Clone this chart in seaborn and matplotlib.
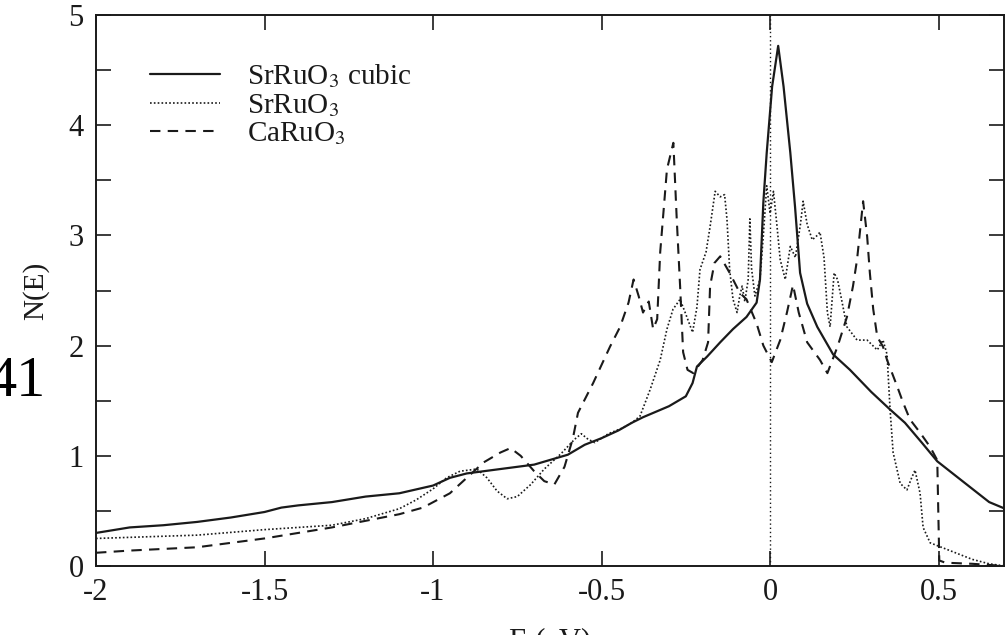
import matplotlib
matplotlib.use("Agg")
import matplotlib.pyplot as plt
import seaborn as sns
import numpy as np

# Density of states N(E) of the ruthenates near the Fermi level
e_cubic = [-2.0, -1.9, -1.8, -1.7, -1.6, -1.5, -1.45, -1.4, -1.3, -1.2,
           -1.1, -1.0, -0.95, -0.9, -0.85, -0.8, -0.7, -0.6, -0.55, -0.5,
           -0.45, -0.41, -0.377, -0.3, -0.25, -0.23, -0.217, -0.187, -0.148, -0.11,
           -0.07, -0.04, -0.03, -0.02, -0.01, 0.006, 0.024, 0.04, 0.06, 0.074,
           0.089, 0.11, 0.14, 0.187, 0.237, 0.3, 0.356, 0.4, 0.45, 0.496,
           0.55, 0.6, 0.65, 0.697]
n_cubic = [0.30, 0.35, 0.37, 0.40, 0.44, 0.49, 0.53, 0.55, 0.58, 0.63,
           0.66, 0.73, 0.80, 0.84, 0.86, 0.88, 0.92, 1.01, 1.10, 1.16,
           1.23, 1.30, 1.35, 1.45, 1.54, 1.66, 1.81, 1.90, 2.03, 2.15,
           2.26, 2.39, 2.6, 3.3, 3.75, 4.35, 4.72, 4.35, 3.75, 3.26,
           2.66, 2.38, 2.17, 1.92, 1.78, 1.58, 1.42, 1.30, 1.12, 0.95,
           0.82, 0.70, 0.58, 0.52]

e_srruo3 = [-2.0, -1.8, -1.7, -1.5, -1.3, -1.2, -1.1, -1.05, -1.0, -0.96,
            -0.92, -0.87, -0.84, -0.81, -0.78, -0.75, -0.71, -0.67, -0.62, -0.58,
            -0.56, -0.54, -0.52, -0.48, -0.44, -0.41, -0.386, -0.356, -0.326, -0.306,
            -0.288, -0.267, -0.247, -0.23, -0.217, -0.208, -0.19, -0.178, -0.163, -0.148,
            -0.135, -0.128, -0.12, -0.11, -0.098, -0.09, -0.083, -0.075, -0.065, -0.06,
            -0.055, -0.045, -0.03, -0.02, -0.01, 0.0, 0.01, 0.02, 0.03, 0.045,
            0.06, 0.075, 0.09, 0.098, 0.11, 0.125, 0.14, 0.148, 0.16, 0.17,
            0.178, 0.19, 0.2, 0.21, 0.228, 0.258, 0.288, 0.318, 0.335, 0.347,
            0.356, 0.365, 0.386, 0.406, 0.42, 0.43, 0.445, 0.454, 0.475, 0.525,
            0.6, 0.65, 0.697]
n_srruo3 = [0.25, 0.27, 0.28, 0.33, 0.37, 0.43, 0.52, 0.60, 0.70, 0.80,
            0.86, 0.88, 0.80, 0.68, 0.61, 0.63, 0.74, 0.88, 1.02, 1.15,
            1.20, 1.15, 1.12, 1.20, 1.25, 1.30, 1.36, 1.6, 1.87, 2.15,
            2.33, 2.42, 2.26, 2.12, 2.35, 2.69, 2.85, 3.08, 3.4, 3.35,
            3.37, 3.15, 2.69, 2.42, 2.3, 2.45, 2.54, 2.4, 2.6, 3.15,
            2.7, 2.45, 2.6, 3.0, 3.45, 3.2, 3.4, 3.1, 2.78, 2.6,
            2.9, 2.8, 3.1, 3.31, 3.1, 2.96, 3.0, 3.03, 2.8, 2.3,
            2.17, 2.66, 2.6, 2.45, 2.17, 2.05, 2.05, 1.96, 2.05, 1.92,
            1.42, 1.03, 0.75, 0.69, 0.80, 0.87, 0.66, 0.35, 0.21, 0.15,
            0.06, 0.02, 0.0]

e_caruo3 = [-2.0, -1.9, -1.7, -1.5, -1.3, -1.1, -1.03, -0.95, -0.9, -0.85,
            -0.8, -0.77, -0.74, -0.7, -0.67, -0.64, -0.61, -0.585, -0.57, -0.525,
            -0.475, -0.445, -0.42, -0.405, -0.39, -0.377, -0.36, -0.347, -0.335, -0.326,
            -0.306, -0.287, -0.277, -0.267, -0.258, -0.245, -0.228, -0.2, -0.184, -0.178,
            -0.165, -0.148, -0.12, -0.09, -0.07, -0.04, -0.02, 0.005, 0.03, 0.05,
            0.068, 0.085, 0.11, 0.148, 0.17, 0.2, 0.228, 0.246, 0.258, 0.276,
            0.288, 0.296, 0.306, 0.318, 0.335, 0.347, 0.377, 0.395, 0.415, 0.445,
            0.475, 0.496, 0.499, 0.502, 0.52, 0.6, 0.697]
n_caruo3 = [0.12, 0.14, 0.17, 0.25, 0.35, 0.47, 0.53, 0.66, 0.80, 0.94,
            1.03, 1.07, 1.0, 0.86, 0.77, 0.74, 0.90, 1.16, 1.39, 1.66,
            1.99, 2.17, 2.39, 2.60, 2.45, 2.30, 2.40, 2.15, 2.24, 2.85,
            3.6, 3.84, 3.15, 2.54, 1.94, 1.78, 1.75, 1.87, 2.03, 2.54,
            2.75, 2.81, 2.66, 2.48, 2.42, 2.2, 2.0, 1.85, 2.05, 2.3,
            2.55, 2.3, 2.03, 1.87, 1.75, 1.99, 2.26, 2.54, 2.78, 3.31,
            2.99, 2.66, 2.33, 2.08, 1.99, 1.87, 1.63, 1.48, 1.33, 1.21,
            1.08, 0.96, 0.5, 0.05, 0.03, 0.02, 0.0]

series_labels = [r"SrRuO$_3$ cubic", r"SrRuO$_3$", r"CaRuO$_3$"]
x_ticks = [-2, -1.5, -1, -0.5, 0, 0.5]
x_tick_labels = ["-2", "-1.5", "-1", "-0.5", "0", "0.5"]
y_ticks = [0, 1, 2, 3, 4, 5]

sns.set_style("ticks")
plt.rcParams["font.family"] = ["Liberation Serif", "DejaVu Serif"]
plt.rcParams["mathtext.fontset"] = "stix"

ink = "#1a1a1a"
fig = plt.figure(figsize=(10.05, 6.35), dpi=100)
ax = fig.add_axes([96 / 1005, 69 / 635, 908 / 1005, 551 / 635])

sns.lineplot(x=e_cubic, y=n_cubic, ax=ax, color=ink, lw=1.6,
             linestyle="-", estimator=None, sort=False, label=series_labels[0])
sns.lineplot(x=e_srruo3, y=n_srruo3, ax=ax, color=ink, lw=1.2,
             linestyle=(0, (1, 1.3)), estimator=None, sort=False, label=series_labels[1])
sns.lineplot(x=e_caruo3, y=n_caruo3, ax=ax, color=ink, lw=1.5,
             linestyle=(0, (5, 3.5)), estimator=None, sort=False, label=series_labels[2])

# Fermi level
ax.axvline(0, color=ink, lw=1.0, linestyle=(0, (1, 2)))

ax.set_xlim(-2, 0.694)
ax.set_ylim(0, 5)
ax.set_xticks(x_ticks)
ax.set_xticklabels(x_tick_labels)
ax.set_yticks(y_ticks)
ax.set_yticks(np.arange(0.5, 5, 1.0), minor=True)
ax.tick_params(which="both", direction="in", top=True, right=True,
               length=11, width=1.2, color=ink, labelsize=22, labelcolor=ink, pad=9)
for s in ax.spines.values():
    s.set_linewidth(1.4)
    s.set_color(ink)

ax.set_ylabel("N(E)", fontsize=21, color=ink, labelpad=14)
ax.set_xlabel("E (eV)", fontsize=22, color=ink, labelpad=14)

leg = ax.legend(loc="upper left", bbox_to_anchor=(0.043, 0.94), frameon=False,
                fontsize=21, handlelength=2.4, handletextpad=0.95,
                labelspacing=0.05, borderpad=0)
for t in leg.get_texts():
    t.set_color(ink)

fig.text(46 / 1005, 1 - 382 / 635, "41", fontsize=42, ha="right", va="center",
         color="black")

fig.savefig("out.png", dpi=100)
